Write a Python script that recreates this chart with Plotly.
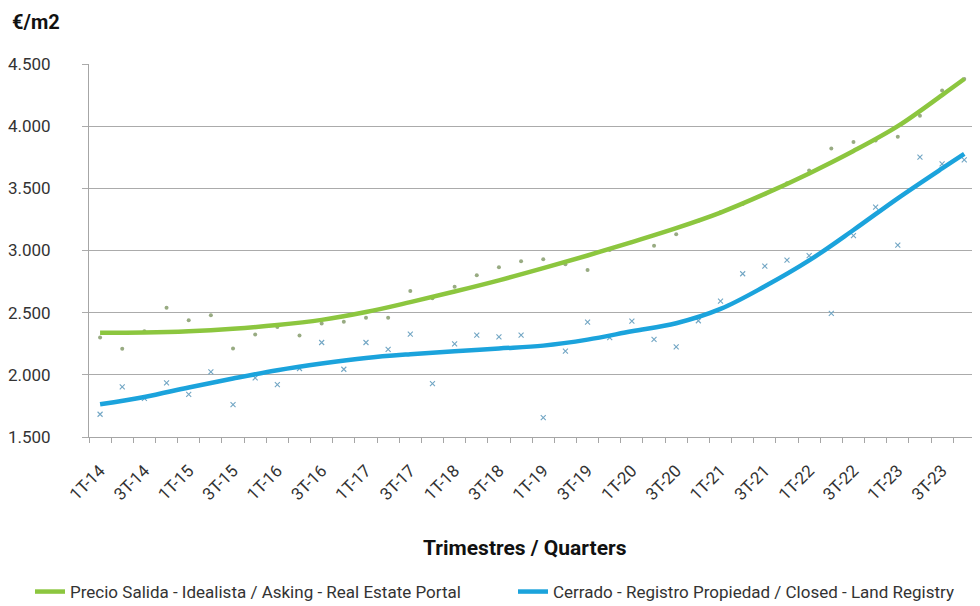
import plotly.graph_objects as go

quarters = [f"{q}T-{y}" for y in range(14, 24) for q in (1, 2, 3, 4)]

asking_points = [2300, 2210, 2350, 2540, 2440, 2480, 2212, 2325, 2385, 2317,
                 2413, 2427, 2459, 2460, 2675, 2615, 2708, 2800, 2865, 2913,
                 2929, 2889, 2843, 3004, 3066, 3039, 3130, 3240, 3308, 3375,
                 3453, 3541, 3643, 3820, 3872, 3885, 3914, 4083, 4287, 4379]

closed_points = [1683, 1903, 1810, 1935, 1842, 2024, 1761, 1975, 1922, 2051,
                 2260, 2045, 2260, 2204, 2327, 1930, 2249, 2319, 2306, 2319,
                 1656, 2190, 2424, 2300, 2432, 2286, 2225, 2435, 2593, 2813,
                 2875, 2923, 2958, 2494, 3120, 3348, 3044, 3751, 3697, 3729]

# trend lines read at every second quarter (plus the last one)
trend_idx = [0, 2, 4, 6, 8, 10, 12, 14, 16, 18, 20, 22, 24, 26, 28, 30, 32, 34, 36, 38, 39]
asking_trend = [2338, 2340, 2350, 2370, 2400, 2442, 2505, 2585, 2670, 2760, 2858,
                2960, 3068, 3180, 3305, 3455, 3620, 3800, 4000, 4250, 4379]
closed_trend = [1763, 1822, 1898, 1970, 2037, 2091, 2136, 2166, 2190, 2212, 2235,
                2283, 2350, 2415, 2530, 2712, 2920, 3165, 3420, 3660, 3777]

tick_idx = list(range(0, 40, 2))
tick_text = [quarters[i] for i in tick_idx]

GREEN = "#8cc63f"
BLUE = "#1ba3dc"
FONT = "Roboto"

x_all = list(range(len(quarters)))

fig = go.Figure()
fig.add_trace(go.Scatter(
    x=x_all, y=asking_points, mode="markers", showlegend=False,
    marker=dict(symbol="circle", size=4, color="#98ab82"), hoverinfo="skip"))
fig.add_trace(go.Scatter(
    x=x_all, y=closed_points, mode="markers", showlegend=False,
    marker=dict(symbol="x-thin", size=5, line=dict(width=1.1, color="#72a6c4")),
    hoverinfo="skip"))
fig.add_trace(go.Scatter(
    x=trend_idx, y=asking_trend, mode="lines", legend="legend",
    name="Precio Salida - Idealista / Asking - Real Estate Portal",
    line=dict(color=GREEN, width=4.5, shape="spline", smoothing=1.0)))
fig.add_trace(go.Scatter(
    x=trend_idx, y=closed_trend, mode="lines", legend="legend2",
    name="Cerrado - Registro Propiedad / Closed - Land Registry",
    line=dict(color=BLUE, width=4.5, shape="spline", smoothing=1.0)))

legend_style = dict(orientation="h", yanchor="middle", y=(437 - 592) / 373, xanchor="left",
                    font=dict(family=FONT, size=17, color="#333333"),
                    bgcolor="rgba(0,0,0,0)", itemwidth=30)

# page has an 8px body margin: figure spans 8..980 horizontally and 8..606 vertically
fig.update_layout(
    width=972, height=598,
    margin=dict(l=81, r=2, t=56, b=169, autoexpand=False),
    paper_bgcolor="white", plot_bgcolor="white",
    separators=",.",
    font=dict(family=FONT, color="#333333"),
    showlegend=True,
    legend=dict(x=(30 - 89) / 889, **legend_style),
    legend2=dict(x=(513 - 89) / 889, **legend_style),
    xaxis=dict(range=[-0.5, 39.62], showgrid=False, zeroline=False, automargin=False,
               tickmode="array", tickvals=tick_idx, ticktext=tick_text,
               tickangle=-45, ticks="", ticklabelstandoff=16,
               tickfont=dict(family=FONT, size=17, color="#333333"),
               showline=True, linecolor="#a6a6a6", linewidth=1,
               minor=dict(tickmode="array", tickvals=[i - 0.5 for i in range(41)],
                          ticks="outside", ticklen=5, tickcolor="#a6a6a6", showgrid=False)),
    yaxis=dict(range=[1500, 4500], dtick=500, tick0=1500, tickformat=",d", automargin=False,
               showgrid=True, gridcolor="#ababab", gridwidth=1.2, zeroline=False,
               showline=True, linecolor="#a6a6a6", linewidth=1,
               ticks="outside", ticklen=6, tickcolor="#ababab",
               ticklabelstandoff=28,
               tickfont=dict(family=FONT, size=17, color="#333333")),
    annotations=[
        dict(text="<b>€/m2</b>", x=(11 - 89) / 889, y=(437 - 9) / 373, xref="paper", yref="paper",
             xanchor="left", yanchor="top", showarrow=False, borderpad=0,
             font=dict(family=FONT, size=20, color="#111111")),
        dict(text="<b>Trimestres / Quarters</b>", x=(525 - 89) / 889, y=(437 - 548) / 373,
             xref="paper", yref="paper",
             xanchor="center", yanchor="middle", showarrow=False,
             font=dict(family=FONT, size=21, color="#111111")),
    ],
)

fig.write_html("out.html")
